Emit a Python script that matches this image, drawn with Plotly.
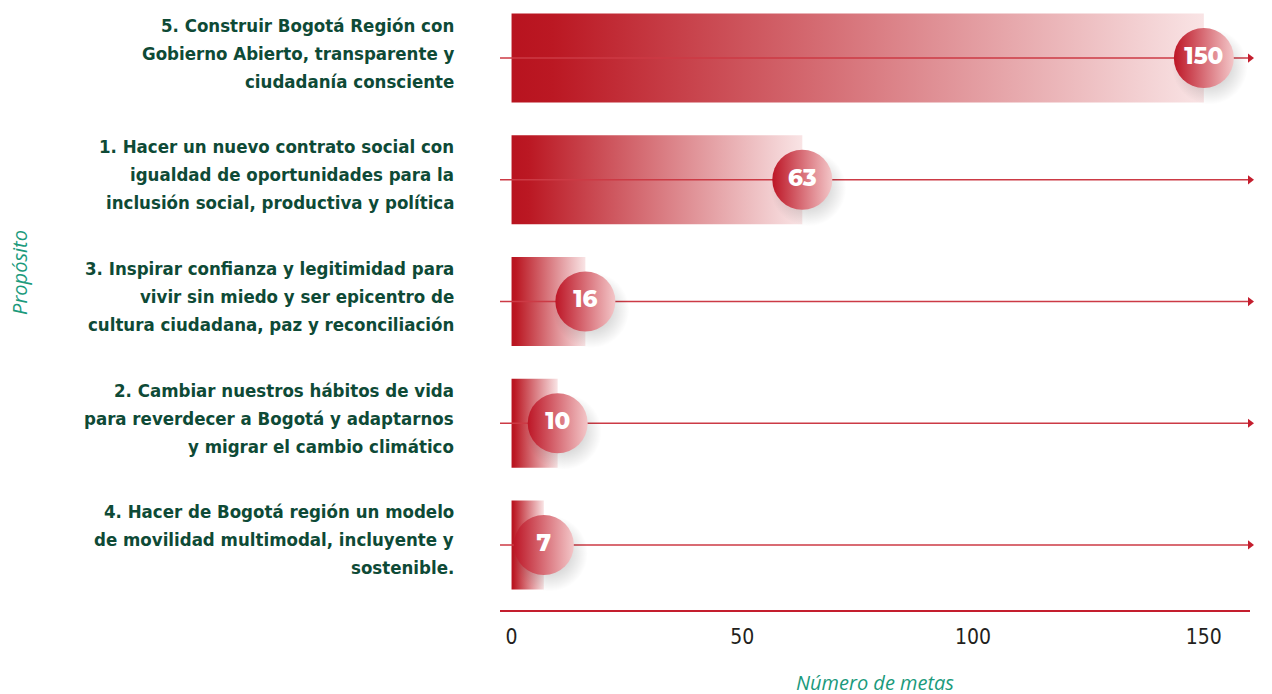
import plotly.graph_objects as go

# ---- data ----
categories = [
    "5. Construir Bogotá Región con<br>Gobierno Abierto, transparente y<br>ciudadanía consciente",
    "1. Hacer un nuevo contrato social con<br>igualdad de oportunidades para la<br>inclusión social, productiva y política",
    "3. Inspirar confianza y legitimidad para<br>vivir sin miedo y ser epicentro de<br>cultura ciudadana, paz y reconciliación",
    "2. Cambiar nuestros hábitos de vida<br>para reverdecer a Bogotá y adaptarnos<br>y migrar el cambio climático",
    "4. Hacer de Bogotá región un modelo<br>de movilidad multimodal, incluyente y<br>sostenible.",
]
values = [150, 63, 16, 10, 7]
x_ticks = [0, 50, 100, 150]
x_title = "Número de metas"
y_title = "Propósito"

# ---- style ----
RED = "#c41e2e"
LINE_RED = "#cc3a45"
DARK = "#b8131f"
LIGHT = "#f9e4e5"
GREEN = "#0e4a36"
TEAL = "#1b9a7c"
LABEL_FONT = "Liberation Sans Narrow, DejaVu Sans Condensed, Roboto, sans-serif"

X_MIN, X_MAX = -2.5, 160
HALF = 0.365
LINE_GAP = 28
ypos = list(range(len(values)))

fig = go.Figure()

# gradient bars
for yi, v in zip(ypos, values):
    fig.add_trace(go.Scatter(
        x=[0, v, v, 0, 0],
        y=[yi - HALF, yi - HALF, yi + HALF, yi + HALF, yi - HALF],
        mode="lines", fill="toself",
        line=dict(width=0, color="rgba(0,0,0,0)"),
        fillgradient=dict(type="horizontal",
                          colorscale=[[0, DARK], [0.06, "#bb1823"], [1, LIGHT]]),
        hoverinfo="skip", showlegend=False,
    ))

# arrow lines
for yi in ypos:
    fig.add_trace(go.Scatter(
        x=[X_MIN, X_MAX], y=[yi, yi], mode="lines",
        line=dict(color=LINE_RED, width=1.6),
        hoverinfo="skip", showlegend=False,
    ))
fig.add_trace(go.Scatter(
    x=[X_MAX] * len(ypos), y=ypos, mode="markers",
    marker=dict(symbol="triangle-right", size=8, color=RED),
    cliponaxis=False, hoverinfo="skip", showlegend=False,
))

# shadows of circles
fig.add_trace(go.Scatter(
    x=[v + 1.3 for v in values], y=[yi + 0.07 for yi in ypos], mode="markers",
    marker=dict(size=76, color="rgba(0,0,0,0)",
                gradient=dict(type="radial", color="rgba(0,0,0,0.30)"),
                line=dict(width=0)),
    cliponaxis=False, hoverinfo="skip", showlegend=False,
))

# value circles
fig.add_trace(go.Scatter(
    x=values, y=ypos, mode="markers+text",
    text=[str(v) for v in values], textposition="middle center",
    textfont=dict(family="Montserrat, Open Sans, sans-serif", size=23, color="white", weight=800),
    marker=dict(size=60, color="#bd1626",
                gradient=dict(type="horizontal", color="#f3c6c8"),
                line=dict(width=0)),
    cliponaxis=False, hoverinfo="skip", showlegend=False,
))

# category labels, one annotation per line
annotations = []
for yi, cat in zip(ypos, categories):
    lines = cat.split("<br>")
    n = len(lines)
    for j, ln in enumerate(lines):
        annotations.append(dict(
            text=ln, xref="paper", yref="y", x=0, y=yi, xshift=-44,
            yshift=((n - 1) / 2 - j) * LINE_GAP + 5,
            xanchor="right", yanchor="middle", showarrow=False,
            font=dict(family=LABEL_FONT, size=18.5, color=GREEN, weight="bold"),
        ))

annotations += [
    dict(text=y_title, xref="paper", yref="paper", x=0, xshift=-480, y=0.56,
         textangle=-90, showarrow=False, xanchor="center", yanchor="middle",
         font=dict(family="Open Sans, sans-serif", size=20, color=TEAL, style="italic")),
    dict(text=x_title, xref="paper", yref="paper", x=0.5, y=0, yshift=-72,
         showarrow=False, xanchor="center", yanchor="middle",
         font=dict(family="Open Sans, sans-serif", size=20, color=TEAL, style="italic")),
]

# page body has an 8px margin: figure is sized to fit the window
fig.update_layout(
    width=1264, height=686,
    margin=dict(l=492, r=22, t=0, b=84),
    paper_bgcolor="white", plot_bgcolor="white",
    xaxis=dict(
        range=[X_MIN, X_MAX], tickvals=x_ticks, ticktext=[str(t) for t in x_ticks],
        showgrid=False, zeroline=False, showline=True, linecolor=RED, linewidth=2,
        ticks="", ticklabelstandoff=7,
        tickfont=dict(family=LABEL_FONT, size=21, color="#231f20"),
        fixedrange=True,
    ),
    yaxis=dict(
        range=[4.534, -0.411], tickvals=ypos, showticklabels=False,
        showgrid=False, zeroline=False, showline=False, ticks="",
        fixedrange=True,
    ),
    annotations=annotations,
)

fig.write_html("out.html")
